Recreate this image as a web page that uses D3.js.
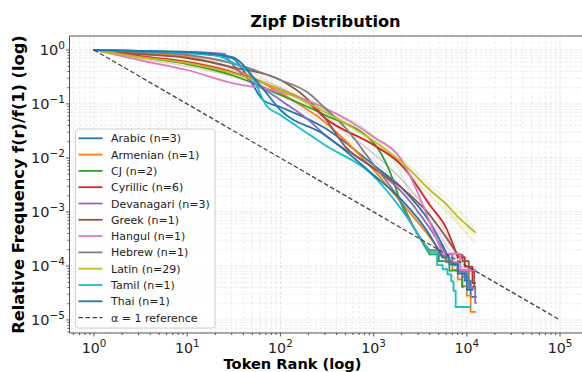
<!DOCTYPE html>
<html><head><meta charset="utf-8">
<script src="https://cdn.jsdelivr.net/npm/d3@7"></script>
<style>body{margin:0;background:#fff} text{font-family:"DejaVu Sans",sans-serif}</style>
</head><body><svg id="c" width="582" height="372"></svg>
<script>
// ---- data (rank, f(r)/f(1)) ----
const scripts = ["Arabic","Armenian","CJ","Cyrillic","Devanagari","Greek","Hangul","Hebrew","Latin","Tamil","Thai"];
const counts  = [3,1,2,6,3,1,1,1,29,1,1];
const colors  = ["#1f77b4","#ff7f0e","#2ca02c","#d62728","#9467bd","#8c564b","#e377c2","#7f7f7f","#bcbd22","#17becf","#1f77b4"];

const arabic = [[1,1],[3,0.958],[10,0.88],[30,0.711],[47,0.278],[65,0.119],[100,0.088],[300,0.0359],[1000,0.0074],[2000,0.0028],[4000,0.00065],[6000,0.00018],[7000,0.000107]];
const arabicTail = [[8000,0.00008],[9500,0.0000535],[11000,0.0000267],[12500,0.0000267]];
const armenian = [[1,1],[3,0.88],[10,0.742],[30,0.464],[100,0.16],[300,0.046],[1000,0.006],[2000,0.00147],[4000,0.000344],[6000,0.000129]];
const armenianTail = [[7000,0.0000846],[8000,0.0000564],[9000,0.0000423],[10000,0.0000282],[11000,0.0000141],[12300,0.0000141]];
const cj = [[1,1],[3,0.742],[10,0.55],[30,0.344],[100,0.147],[300,0.0625],[1000,0.019],[1500,0.0055],[2000,0.00135],[3000,0.000375],[4000,0.000164]];
const cjTail = [[5000,0.000123],[6500,0.000082],[8900,0.000041],[9200,0.000041]];
const cyrillic = [[1,1],[3,0.774],[10,0.6],[30,0.391],[100,0.182],[200,0.104],[300,0.0551],[1000,0.0174],[2000,0.0074],[4000,0.00135],[6000,0.000506],[8000,0.000145]];
const cyrillicTail = [[9500,0.000097],[11500,0.0000484],[12200,0.0000484]];
const devanagari = [[1,1],[3,0.958],[10,0.918],[25,0.843],[28,0.65],[100,0.119],[200,0.0506],[300,0.0267],[1000,0.0065],[2000,0.00235],[4000,0.0005],[6000,0.000165]];
const devanagariTail = [[7000,0.000103],[8000,0.000083],[9000,0.000062],[10500,0.0000414],[12300,0.0000207],[12500,0.0000207]];
const greek = [[1,1],[3,0.843],[10,0.711],[30,0.484],[100,0.278],[200,0.119],[300,0.0551],[500,0.016],[1000,0.0065],[2000,0.0028],[4000,0.00088],[6000,0.00034],[8000,0.00016]];
const greekTail = [[9000,0.000123],[10500,0.000082],[12000,0.0000409],[12300,0.0000409]];
const hangul = [[1,1],[3,0.653],[10,0.426],[30,0.245],[100,0.167],[300,0.0843],[1000,0.0245],[2000,0.0092],[3000,0.0022],[4000,0.00065],[5500,0.000169]];
const hangulTail = [[8500,0.0000843],[12300,0.0000843]];
const hebrew = [[1,1],[3,0.918],[10,0.808],[30,0.574],[100,0.278],[200,0.16],[300,0.0843],[500,0.0359],[1000,0.0075],[2000,0.00147],[3000,0.000375],[4000,0.000196]];
const hebrewTail = [[5000,0.000156],[6000,0.000117],[8000,0.000078],[10500,0.0000391],[12300,0.0000391]];
const latin = [[1,1],[3,0.742],[10,0.574],[30,0.375],[100,0.182],[300,0.0711],[1000,0.0207],[2000,0.0084],[4000,0.00255],[6000,0.0014],[8000,0.00081],[10000,0.00058],[12200,0.000426]];
const latinTail = [];
const tamil = [[1,1],[3,0.958],[10,0.88],[20,0.808],[30,0.6],[50,0.316],[70,0.0958],[100,0.0625],[300,0.0174],[1000,0.0046],[2000,0.0011],[4000,0.00018]];
const tamilTail = [[4800,0.000104],[5500,0.000087],[6200,0.00007],[6800,0.000052],[7200,0.0000348],[7600,0.0000174],[10800,0.0000174]];
const thai = [[1,1],[3,0.958],[10,0.918],[30,0.742],[60,0.225],[100,0.0774],[300,0.0267],[1000,0.00484],[2000,0.00167],[4000,0.000375],[5500,0.000144]];
const thaiTail = [[6500,0.000108],[8000,0.000072],[10000,0.000036],[11500,0.000036]];

// individual languages (faint)
const arabicB = [[1,1],[3,0.9],[10,0.78],[30,0.55],[100,0.2],[300,0.06],[1000,0.012],[2000,0.004],[4000,0.0009],[7000,0.0002],[10000,0.00006]];
const cjB = [[1,1],[3,0.75],[10,0.58],[30,0.38],[100,0.19],[300,0.08],[1000,0.025],[2000,0.005],[3000,0.0009],[5000,0.00015],[8000,0.00005]];
const cyrillicB = [[1,1],[3,0.8],[10,0.63],[30,0.42],[100,0.2],[300,0.075],[1000,0.02],[2000,0.007],[4000,0.0015],[6000,0.0004],[9000,0.00012],[12000,0.00006]];
const cyrillicC = [[1,1],[3,0.7],[10,0.5],[30,0.32],[100,0.15],[300,0.05],[1000,0.012],[2000,0.004],[4000,0.0009],[6000,0.00025],[10000,0.00008]];
const devanagariB = [[1,1],[3,0.9],[10,0.8],[30,0.5],[100,0.15],[300,0.04],[1000,0.009],[2000,0.003],[4000,0.0007],[7000,0.00015],[11000,0.00004]];
const latinB = [[1,1],[3,0.8],[10,0.62],[30,0.42],[100,0.21],[300,0.085],[1000,0.026],[2000,0.0095],[4000,0.0028],[8000,0.0009],[11000,0.00045]];
const latinC = [[1,1],[3,0.68],[10,0.5],[30,0.33],[100,0.16],[300,0.06],[1000,0.017],[2000,0.0068],[4000,0.002],[8000,0.0006],[12500,0.00028]];
const latinD = [[1,1],[3,0.75],[10,0.6],[30,0.4],[100,0.2],[300,0.078],[1000,0.024],[2000,0.01],[4000,0.0032],[8000,0.0011],[12000,0.0005]];
const latinE = [[1,1],[3,0.7],[10,0.55],[30,0.36],[100,0.17],[300,0.066],[1000,0.019],[2000,0.0075],[4000,0.0021],[8000,0.0007],[12500,0.00035]];
const latinF = [[1,1],[3,0.78],[10,0.58],[30,0.38],[100,0.19],[300,0.074],[1000,0.022],[2000,0.0088],[4000,0.0026],[6000,0.0012],[9000,0.0005],[12000,0.00026]];

const reference = [[1,1],[100000,0.00001]];
const xTicks = [1,10,100,1000,10000,100000];
const xExps = ["0","1","2","3","4","5"];
const yTicks = [1,0.1,0.01,0.001,0.0001,0.00001];
const yExps = ["0","\u22121","\u22122","\u22123","\u22124","\u22125"];

const bodies = [arabic,armenian,cj,cyrillic,devanagari,greek,hangul,hebrew,latin,tamil,thai];
const tails = [arabicTail,armenianTail,cjTail,cyrillicTail,devanagariTail,greekTail,hangulTail,hebrewTail,latinTail,tamilTail,thaiTail];
const faints = [[arabicB],[],[cjB],[cyrillicB,cyrillicC],[devanagariB],[],[],[],[latinB,latinC,latinD,latinE,latinF],[],[]];

// ---- layout ----
const svg = d3.select("#c");
const L = 69.5, T = 36, B = 333;
const x = d3.scaleLog().domain([Math.pow(10,-0.263), Math.pow(10,5.25)]).range([L, L + 5.513*93.2]);
const y = d3.scaleLog().domain([Math.pow(10,-5.241), Math.pow(10,0.259)]).range([B, T]);
const R = x.range()[1];

svg.append("defs").append("clipPath").attr("id","clip")
  .append("rect").attr("x",L).attr("y",T).attr("width",R-L).attr("height",B-T);

// grid
const xMinor = [], yMinor = [];
for (let d=-1; d<=5; d++) for (let k=2; k<=9; k++) {
  const v = k*Math.pow(10,d);
  if (v > x.domain()[0] && v < x.domain()[1]) xMinor.push(v);
}
for (let d=-6; d<=0; d++) for (let k=2; k<=9; k++) {
  const v = k*Math.pow(10,d);
  if (v > y.domain()[0] && v < y.domain()[1]) yMinor.push(v);
}
const grid = svg.append("g").attr("clip-path","url(#clip)");
grid.selectAll(".gxm").data(xMinor).join("line")
  .attr("x1",d=>x(d)).attr("x2",d=>x(d)).attr("y1",T).attr("y2",B)
  .attr("stroke","#e8e8e8").attr("stroke-width",0.8).attr("stroke-dasharray","3,2");
grid.selectAll(".gym").data(yMinor).join("line")
  .attr("y1",d=>y(d)).attr("y2",d=>y(d)).attr("x1",L).attr("x2",R)
  .attr("stroke","#e8e8e8").attr("stroke-width",0.8).attr("stroke-dasharray","3,2");
grid.selectAll(".gx").data(xTicks).join("line")
  .attr("x1",d=>x(d)).attr("x2",d=>x(d)).attr("y1",T).attr("y2",B)
  .attr("stroke","#dcdcdc").attr("stroke-width",0.8).attr("stroke-dasharray","3,2");
grid.selectAll(".gy").data(yTicks).join("line")
  .attr("y1",d=>y(d)).attr("y2",d=>y(d)).attr("x1",L).attr("x2",R)
  .attr("stroke","#dcdcdc").attr("stroke-width",0.8).attr("stroke-dasharray","3,2");

// lines
const plot = svg.append("g").attr("clip-path","url(#clip)");
const smooth = d3.line().x(d=>x(d[0])).y(d=>y(d[1])).curve(d3.curveMonotoneX);
const step = d3.line().x(d=>x(d[0])).y(d=>y(d[1])).curve(d3.curveStepAfter);
const straight = d3.line().x(d=>x(d[0])).y(d=>y(d[1]));

scripts.forEach((s,i)=>{
  faints[i].forEach(f=>{
    plot.append("path").attr("d",smooth(f)).attr("fill","none")
      .attr("stroke",colors[i]).attr("stroke-opacity",0.18).attr("stroke-width",1.3);
  });
});
scripts.forEach((s,i)=>{
  const g = plot.append("g").attr("stroke",colors[i]).attr("fill","none")
    .attr("stroke-width",1.8).attr("stroke-linejoin","round").attr("stroke-linecap","square");
  g.append("path").attr("d",smooth(bodies[i]));
  if (tails[i].length) {
    g.append("path").attr("d",step([bodies[i][bodies[i].length-1]].concat(tails[i])));
  }
});
plot.append("path").attr("d",straight(reference)).attr("fill","none")
  .attr("stroke","#444").attr("stroke-width",1.3).attr("stroke-dasharray","4.5,2.5");

// spines
svg.append("line").attr("x1",L).attr("x2",L).attr("y1",T).attr("y2",B).attr("stroke","#555").attr("stroke-width",1);
svg.append("line").attr("x1",L).attr("x2",R).attr("y1",B).attr("y2",B).attr("stroke","#555").attr("stroke-width",1);
svg.append("line").attr("x1",L).attr("x2",R).attr("y1",T).attr("y2",T).attr("stroke","#555").attr("stroke-width",1);
svg.append("line").attr("x1",R).attr("x2",R).attr("y1",T).attr("y2",B).attr("stroke","#555").attr("stroke-width",1);

// ticks
const tk = svg.append("g").attr("stroke","#444").attr("stroke-width",0.9);
xTicks.forEach(v=>tk.append("line").attr("x1",x(v)).attr("x2",x(v)).attr("y1",B).attr("y2",B+3.5));
xMinor.forEach(v=>tk.append("line").attr("x1",x(v)).attr("x2",x(v)).attr("y1",B).attr("y2",B+2));
yTicks.forEach(v=>tk.append("line").attr("y1",y(v)).attr("y2",y(v)).attr("x1",L-3.5).attr("x2",L));
yMinor.forEach(v=>tk.append("line").attr("y1",y(v)).attr("y2",y(v)).attr("x1",L-2).attr("x2",L));

xTicks.forEach((v,i)=>{
  const t = svg.append("text").attr("x",x(v)).attr("y",353).attr("text-anchor","middle")
    .attr("font-size",14.2).attr("fill","#222");
  t.append("tspan").text("10");
  t.append("tspan").attr("dy",-6).attr("font-size",10.3).text(xExps[i]);
});
yTicks.forEach((v,i)=>{
  const t = svg.append("text").attr("x",65).attr("y",y(v)+5.5).attr("text-anchor","end")
    .attr("font-size",14.5).attr("fill","#222");
  t.append("tspan").text("10");
  t.append("tspan").attr("dy",-6).attr("font-size",10.5).text(yExps[i]);
});

// titles
const cx = (L+R)/2;
svg.append("text").attr("x",cx - 1).attr("y",27.3).attr("text-anchor","middle")
  .attr("font-size",16.2).attr("font-weight","bold").text("Zipf Distribution");
svg.append("text").attr("x",292.5).attr("y",369.3).attr("text-anchor","middle")
  .attr("font-size",14.6).attr("font-weight","bold").text("Token Rank (log)");
svg.append("text").attr("transform",`translate(23.5,${(T+B)/2}) rotate(-90)`).attr("text-anchor","middle")
  .attr("font-size",16.2).attr("font-weight","bold").text("Relative Frequency f(r)/f(1) (log)");

// legend
const lg = svg.append("g");
lg.append("rect").attr("x",75.5).attr("y",129).attr("width",139.5).attr("height",199).attr("rx",3)
  .attr("fill","#fff").attr("fill-opacity",0.85).attr("stroke","#ccc").attr("stroke-width",0.9);
const labels = scripts.map((s,i)=>`${s} (n=${counts[i]})`).concat(["\u03b1 = 1 reference"]);
labels.forEach((lab,i)=>{
  const yy = 138.3 + i*16.3;
  const ln = lg.append("line").attr("x1",78.5).attr("x2",102.5).attr("y1",yy).attr("y2",yy);
  if (i < scripts.length) ln.attr("stroke",colors[i]).attr("stroke-width",1.8);
  else ln.attr("stroke","#444").attr("stroke-width",1.3).attr("stroke-dasharray","4.5,2.5");
  lg.append("text").attr("x",111).attr("y",yy+4).attr("font-size",11).attr("fill","#222").text(lab);
});
</script></body></html>
